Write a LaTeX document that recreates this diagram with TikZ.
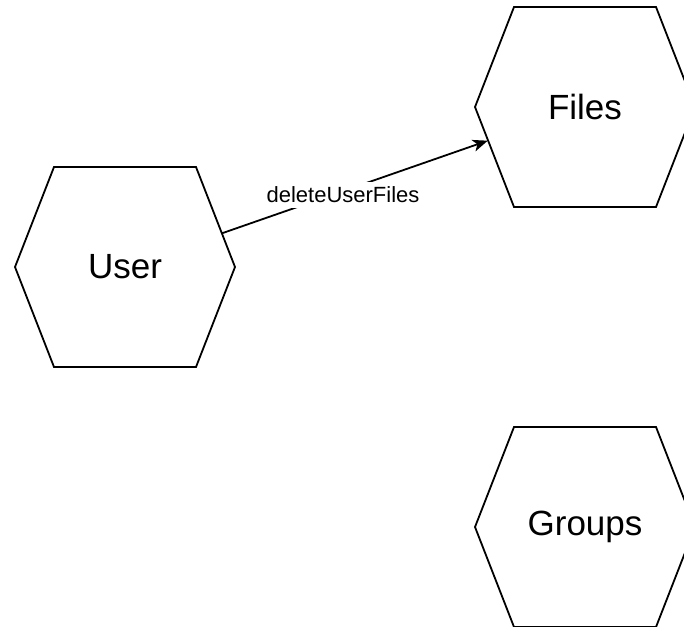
\documentclass[tikz,border=0pt]{standalone}
\usepackage{fontspec}
\setmainfont{Liberation Sans}
\usepackage{tikz}
\usetikzlibrary{arrows.meta, positioning}
\tikzset{
  entity/.style={
      rectangle,
      minimum width=220pt,
      minimum height=200pt,
      inner sep=0pt,
      outer sep=0pt,
      align=center,
      font=\fontsize{35}{42}\selectfont
  },
  hexline/.style={draw=black, line width=1.8pt, line join=miter},
  edgetext/.style={
      fill=white,
      inner xsep=1pt,
      inner ysep=5pt,
      font=\fontsize{22}{26}\selectfont
  },
  % the box is wider than the hexagon's slanted sides, so reach back in
  arrow/.style={-{Stealth[length=15pt, width=12pt, inset=4pt]}, line width=1.8pt,
      shorten <=-13.5pt, shorten >=-13.5pt}
}

\begin{document}
\begin{tikzpicture}[x=1pt, y=-1pt]
      \clip (0,0) rectangle (684,626);
      % Entities
      \node (user) [entity] at (125,267) {User};
      \node (files) [entity] at (585,107) {Files};
      \node (groups) [entity, below=220pt of files] {Groups};

      % Hexagon outlines
      \foreach \n in {user, files, groups}
        \draw[hexline] ([xshift=39pt]\n.north west) -- ([xshift=-39pt]\n.north east)
          -- (\n.east) -- ([xshift=-39pt]\n.south east)
          -- ([xshift=39pt]\n.south west) -- (\n.west) -- cycle;

      % Calls
      \draw[arrow] (user) -- node[edgetext, pos=0.45, yshift=-4pt] {deleteUserFiles} (files);
    \end{tikzpicture}
\end{document}
